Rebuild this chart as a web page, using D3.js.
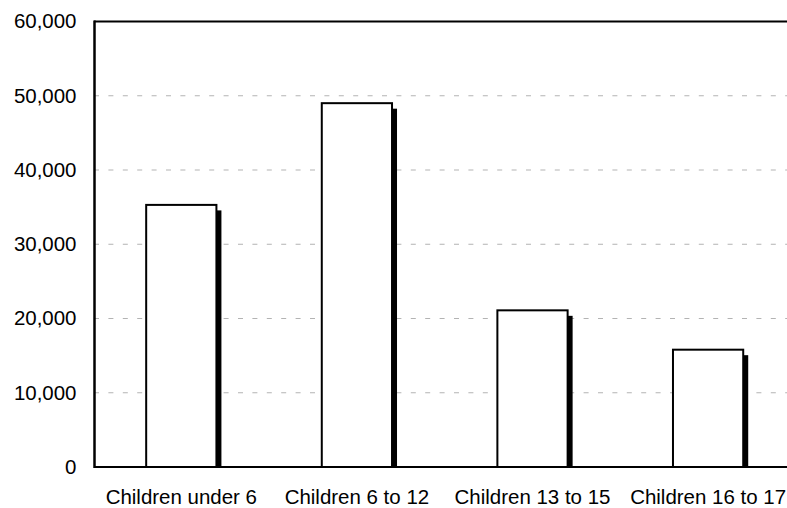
<!DOCTYPE html>
<html>
<head>
<meta charset="utf-8">
<script src="https://cdn.jsdelivr.net/npm/d3@7"></script>
<style>
  html, body { margin: 0; padding: 0; background: #fff; }
  svg { display: block; }
  text { font-family: "Liberation Sans", Arial, Helvetica, sans-serif; fill: #000; }
</style>
</head>
<body>
<svg id="chart" width="787" height="508"></svg>
<script>
const categories = ["Children under 6", "Children 6 to 12", "Children 13 to 15", "Children 16 to 17"];
const values = [35300, 49000, 21100, 15800];
const yTicks = [0, 10000, 20000, 30000, 40000, 50000, 60000];

const W = 787, H = 508;
const svg = d3.select("#chart");

const x = d3.scaleBand().domain(categories).range([93.5, 795.9]).paddingInner(0.6).paddingOuter(0.3);
const y = d3.scaleLinear().domain([0, 60000]).range([467, 21.5]);
const fmt = d3.format(",");
const sx = 1.05, fs = 19.5;

// gridlines
svg.append("g").selectAll("line").data(yTicks.filter(d => d > 0 && d < 60000)).join("line")
  .attr("x1", 94).attr("x2", W)
  .attr("y1", d => y(d)).attr("y2", d => y(d))
  .attr("stroke", "#b3b3b3").attr("stroke-width", 1)
  .attr("stroke-dasharray", "5,9.4");

// shadows
const dx = 5, dy = 5.5;
svg.append("g").selectAll("rect").data(values).join("rect")
  .attr("x", (d, i) => x(categories[i]) + dx)
  .attr("y", d => y(d) + dy)
  .attr("width", x.bandwidth())
  .attr("height", d => y(0) - y(d) - dy)
  .attr("fill", "#000");

// bars
svg.append("g").selectAll("rect").data(values).join("rect")
  .attr("x", (d, i) => x(categories[i]))
  .attr("y", d => y(d))
  .attr("width", x.bandwidth())
  .attr("height", d => y(0) - y(d))
  .attr("fill", "#fff").attr("stroke", "#000").attr("stroke-width", 2);

// axes lines
svg.append("line").attr("x1", 94).attr("x2", W).attr("y1", y(60000)).attr("y2", y(60000))
  .attr("stroke", "#000").attr("stroke-width", 2);
svg.append("line").attr("x1", 94).attr("x2", W).attr("y1", y(0)).attr("y2", y(0))
  .attr("stroke", "#000").attr("stroke-width", 2);
svg.append("line").attr("x1", 94.5).attr("x2", 94.5).attr("y1", y(60000) - 1).attr("y2", y(0) + 1)
  .attr("stroke", "#000").attr("stroke-width", 2.5);

// y labels
svg.append("g").selectAll("text").data(yTicks).join("text")
  .attr("transform", d => `translate(76.5,${y(d)}) scale(${sx},1)`)
  .attr("text-anchor", "end").attr("dy", "0.35em")
  .attr("font-size", fs)
  .text(d => fmt(d));

// x labels
svg.append("g").selectAll("text").data(categories).join("text")
  .attr("transform", d => `translate(${x(d) + x.bandwidth() / 2},503.5) scale(${sx},1)`)
  .attr("text-anchor", "middle")
  .attr("font-size", fs)
  .text(d => d);
</script>
</body>
</html>
